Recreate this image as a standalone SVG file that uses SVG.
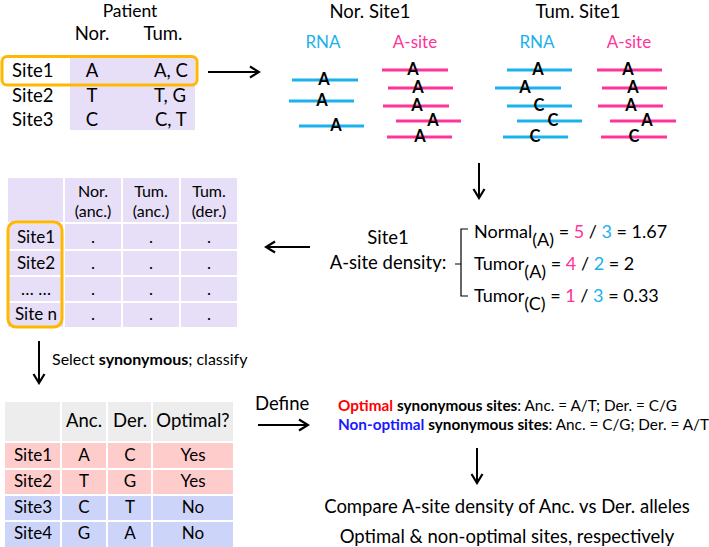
<svg xmlns="http://www.w3.org/2000/svg" width="709" height="547" viewBox="0 0 709 547">
<defs>
<marker id="arr" markerUnits="userSpaceOnUse" markerWidth="12" markerHeight="14" refX="10" refY="7" orient="auto">
<path d="M1,1.5 L10,7 L1,12.5" fill="none" stroke="#000" stroke-width="2.2"/>
</marker>
<style>
text{font-family:Lato,"Liberation Sans",sans-serif;fill:#000}
.t18{font-size:18.5px}
.t17{font-size:17px}
.t16{font-size:17px}
.t15{font-size:16px}
.c{text-anchor:middle}
.blue{fill:#1BB1EC}
.pink{fill:#FF3399}
.rb{stroke:#1BB1EC;stroke-width:3}
.rp{stroke:#FF3399;stroke-width:3}
.nt{font-size:16.5px;font-weight:bold;text-anchor:middle}
.arrow{stroke:#000;stroke-width:2;fill:none;marker-end:url(#arr)}
.lav{fill:#E7DEF7}
.org{fill:none;stroke:#FFB700;stroke-width:3}
.gray{fill:#EDEDED}
.red{fill:#FFCCCC}
.bl{fill:#CCD4FA}
</style>
</defs>
<rect width="709" height="547" fill="#fff"/>

<g id="patient-table">
<text class="c" x="130" y="17" style="font-size:17.5px">Patient</text>
<text class="t18 c" x="92" y="40">Nor.</text>
<text class="t18 c" x="163" y="40">Tum.</text>
<rect class="lav" x="70" y="57" width="125" height="73"/>
<rect class="org" x="2" y="56.5" width="195" height="28.5" rx="5"/>
<text class="t18" x="12" y="77">Site1</text>
<text class="t18" x="12" y="102">Site2</text>
<text class="t18" x="12" y="126">Site3</text>
<text class="t18 c" x="92" y="77">A</text>
<text class="t18 c" x="92" y="102">T</text>
<text class="t18 c" x="92" y="126">C</text>
<text class="t18" x="154" y="77">A, C</text>
<text class="t18" x="154" y="102">T, G</text>
<text class="t18" x="155" y="126">C, T</text>
</g>

<g id="nor-site1">
<text class="t18 c" x="370" y="18">Nor. Site1</text>
<text class="t17 c blue" x="323" y="48">RNA</text>
<text class="t17 c pink" x="415" y="48">A-site</text>
<line class="rb" x1="292" y1="80" x2="358" y2="80"/>
<line class="rb" x1="289" y1="101" x2="354" y2="101"/>
<line class="rb" x1="299" y1="126" x2="364" y2="126"/>
<text class="nt" x="324" y="85">A</text>
<text class="nt" x="322" y="106">A</text>
<text class="nt" x="336" y="131">A</text>
<line class="rp" x1="382" y1="70" x2="448" y2="70"/>
<line class="rp" x1="388" y1="88" x2="453" y2="88"/>
<line class="rp" x1="383" y1="106" x2="449" y2="106"/>
<line class="rp" x1="396" y1="121" x2="461" y2="121"/>
<line class="rp" x1="387" y1="137" x2="452" y2="137"/>
<text class="nt" x="413" y="75">A</text>
<text class="nt" x="418" y="93">A</text>
<text class="nt" x="417" y="111">A</text>
<text class="nt" x="433" y="126">A</text>
<text class="nt" x="420" y="142">A</text>
</g>

<g id="tum-site1">
<text class="t18 c" x="578" y="18">Tum. Site1</text>
<text class="t17 c blue" x="537" y="48">RNA</text>
<text class="t17 c pink" x="629" y="48">A-site</text>
<line class="rb" x1="507" y1="70" x2="572" y2="70"/>
<line class="rb" x1="495" y1="88" x2="561" y2="88"/>
<line class="rb" x1="507" y1="106" x2="572" y2="106"/>
<line class="rb" x1="517" y1="121" x2="582" y2="121"/>
<line class="rb" x1="503" y1="137" x2="568" y2="137"/>
<text class="nt" x="538" y="75">A</text>
<text class="nt" x="525" y="93">A</text>
<text class="nt" x="539" y="111">C</text>
<text class="nt" x="553" y="126">C</text>
<text class="nt" x="535" y="142">C</text>
<line class="rp" x1="597" y1="70" x2="662" y2="70"/>
<line class="rp" x1="602" y1="88" x2="667" y2="88"/>
<line class="rp" x1="598" y1="106" x2="663" y2="106"/>
<line class="rp" x1="610" y1="121" x2="676" y2="121"/>
<line class="rp" x1="601" y1="137" x2="667" y2="137"/>
<text class="nt" x="628" y="75">A</text>
<text class="nt" x="633" y="93">A</text>
<text class="nt" x="631" y="111">A</text>
<text class="nt" x="647" y="126">A</text>
<text class="nt" x="634" y="142">C</text>
</g>

<g id="density">
<text class="t18 c" x="388" y="244">Site1</text>
<text class="t18 c" x="388" y="269">A-site density:</text>
<path d="M468,229 L461,229 L461,296 L468,296 M461,264 L455,264" fill="none" stroke="#000" stroke-width="1.2"/>
<text x="474" y="238" style="font-size:18px">Normal<tspan dy="8">(A)</tspan><tspan dy="-8"> = </tspan><tspan class="pink">5</tspan> / <tspan class="blue">3</tspan> = 1.67</text>
<text x="474" y="270" style="font-size:18px">Tumor<tspan dy="8">(A)</tspan><tspan dy="-8"> = </tspan><tspan class="pink">4</tspan> / <tspan class="blue">2</tspan> = 2</text>
<text x="474" y="302" style="font-size:18px">Tumor<tspan dy="8">(C)</tspan><tspan dy="-8"> = </tspan><tspan class="pink">1</tspan> / <tspan class="blue">3</tspan> = 0.33</text>
</g>

<g id="site-table">
<rect class="lav" x="8" y="178" width="55" height="44"/>
<rect class="lav" x="65" y="178" width="56" height="44"/>
<rect class="lav" x="123" y="178" width="56" height="44"/>
<rect class="lav" x="181" y="178" width="56" height="44"/>
<rect class="lav" x="8" y="224" width="55" height="25"/>
<rect class="lav" x="65" y="224" width="56" height="25"/>
<rect class="lav" x="123" y="224" width="56" height="25"/>
<rect class="lav" x="181" y="224" width="56" height="25"/>
<rect class="lav" x="8" y="251" width="55" height="24"/>
<rect class="lav" x="65" y="251" width="56" height="24"/>
<rect class="lav" x="123" y="251" width="56" height="24"/>
<rect class="lav" x="181" y="251" width="56" height="24"/>
<rect class="lav" x="8" y="277" width="55" height="24"/>
<rect class="lav" x="65" y="277" width="56" height="24"/>
<rect class="lav" x="123" y="277" width="56" height="24"/>
<rect class="lav" x="181" y="277" width="56" height="24"/>
<rect class="lav" x="8" y="303" width="55" height="24"/>
<rect class="lav" x="65" y="303" width="56" height="24"/>
<rect class="lav" x="123" y="303" width="56" height="24"/>
<rect class="lav" x="181" y="303" width="56" height="24"/>
<text class="t15 c" x="93" y="197">Nor.</text>
<text class="t15 c" x="93" y="217">(anc.)</text>
<text class="t15 c" x="151" y="197">Tum.</text>
<text class="t15 c" x="151" y="217">(anc.)</text>
<text class="t15 c" x="209" y="197">Tum.</text>
<text class="t15 c" x="209" y="217">(der.)</text>
<text class="t16 c" x="36" y="243">Site1</text>
<text class="t16 c" x="36" y="269">Site2</text>
<text class="t16 c" x="36" y="295">… …</text>
<text class="t16 c" x="36" y="320">Site n</text>
<text class="t16 c" x="93" y="243">.</text><text class="t16 c" x="151" y="243">.</text><text class="t16 c" x="209" y="243">.</text>
<text class="t16 c" x="93" y="269">.</text><text class="t16 c" x="151" y="269">.</text><text class="t16 c" x="209" y="269">.</text>
<text class="t16 c" x="93" y="295">.</text><text class="t16 c" x="151" y="295">.</text><text class="t16 c" x="209" y="295">.</text>
<text class="t16 c" x="93" y="320">.</text><text class="t16 c" x="151" y="320">.</text><text class="t16 c" x="209" y="320">.</text>
<rect class="org" x="8" y="222" width="54" height="105" rx="8"/>
</g>

<g id="class-table">
<rect class="gray" x="5" y="402" width="55" height="39"/>
<rect class="gray" x="62" y="402" width="44" height="39"/>
<rect class="gray" x="108" y="402" width="43" height="39"/>
<rect class="gray" x="153" y="402" width="80" height="39"/>
<rect class="red" x="5" y="443" width="55" height="25"/>
<rect class="red" x="62" y="443" width="44" height="25"/>
<rect class="red" x="108" y="443" width="43" height="25"/>
<rect class="red" x="153" y="443" width="80" height="25"/>
<rect class="red" x="5" y="470" width="55" height="24"/>
<rect class="red" x="62" y="470" width="44" height="24"/>
<rect class="red" x="108" y="470" width="43" height="24"/>
<rect class="red" x="153" y="470" width="80" height="24"/>
<rect class="bl" x="5" y="496" width="55" height="24"/>
<rect class="bl" x="62" y="496" width="44" height="24"/>
<rect class="bl" x="108" y="496" width="43" height="24"/>
<rect class="bl" x="153" y="496" width="80" height="24"/>
<rect class="bl" x="5" y="522" width="55" height="25"/>
<rect class="bl" x="62" y="522" width="44" height="25"/>
<rect class="bl" x="108" y="522" width="43" height="25"/>
<rect class="bl" x="153" y="522" width="80" height="25"/>
<text class="t18 c" x="84" y="427">Anc.</text>
<text class="t18 c" x="130" y="427">Der.</text>
<text class="t18 c" x="193" y="427">Optimal?</text>
<text class="t16 c" x="33" y="461">Site1</text>
<text class="t16 c" x="84" y="461">A</text>
<text class="t16 c" x="130" y="461">C</text>
<text class="t16 c" x="193" y="461">Yes</text>
<text class="t16 c" x="33" y="487">Site2</text>
<text class="t16 c" x="84" y="487">T</text>
<text class="t16 c" x="130" y="487">G</text>
<text class="t16 c" x="193" y="487">Yes</text>
<text class="t16 c" x="33" y="513">Site3</text>
<text class="t16 c" x="84" y="513">C</text>
<text class="t16 c" x="130" y="513">T</text>
<text class="t16 c" x="193" y="513">No</text>
<text class="t16 c" x="33" y="539">Site4</text>
<text class="t16 c" x="84" y="539">G</text>
<text class="t16 c" x="130" y="539">A</text>
<text class="t16 c" x="193" y="539">No</text>
</g>

<g id="definitions">
<text x="338" y="411" style="font-size:15.3px"><tspan style="fill:#FF0000;font-weight:bold">Optimal</tspan> <tspan style="font-weight:bold">synonymous sites</tspan>: Anc. = A/T; Der. = C/G</text>
<text x="338" y="430" style="font-size:15.3px"><tspan style="fill:#1A1AFF;font-weight:bold">Non-optimal</tspan> <tspan style="font-weight:bold">synonymous sites</tspan>: Anc. = C/G; Der. = A/T</text>
</g>

<g id="compare">
<text class="t18 c" x="507" y="513">Compare A-site density of Anc. vs Der. alleles</text>
<text class="t18 c" x="507" y="543">Optimal &amp; non-optimal sites, respectively</text>
</g>

<g id="connectors">
<line class="arrow" x1="208" y1="72" x2="259" y2="72"/>
<line class="arrow" x1="479" y1="163" x2="479" y2="198"/>
<line class="arrow" x1="310" y1="247" x2="266" y2="247"/>
<line class="arrow" x1="39" y1="341" x2="39" y2="383"/>
<text class="t15" x="52" y="365">Select <tspan font-weight="bold">synonymous</tspan>; classify</text>
<text class="t18" x="255" y="410">Define</text>
<line class="arrow" x1="258" y1="425" x2="308" y2="425"/>
<line class="arrow" x1="477" y1="448" x2="477" y2="483"/>
</g>
</svg>
